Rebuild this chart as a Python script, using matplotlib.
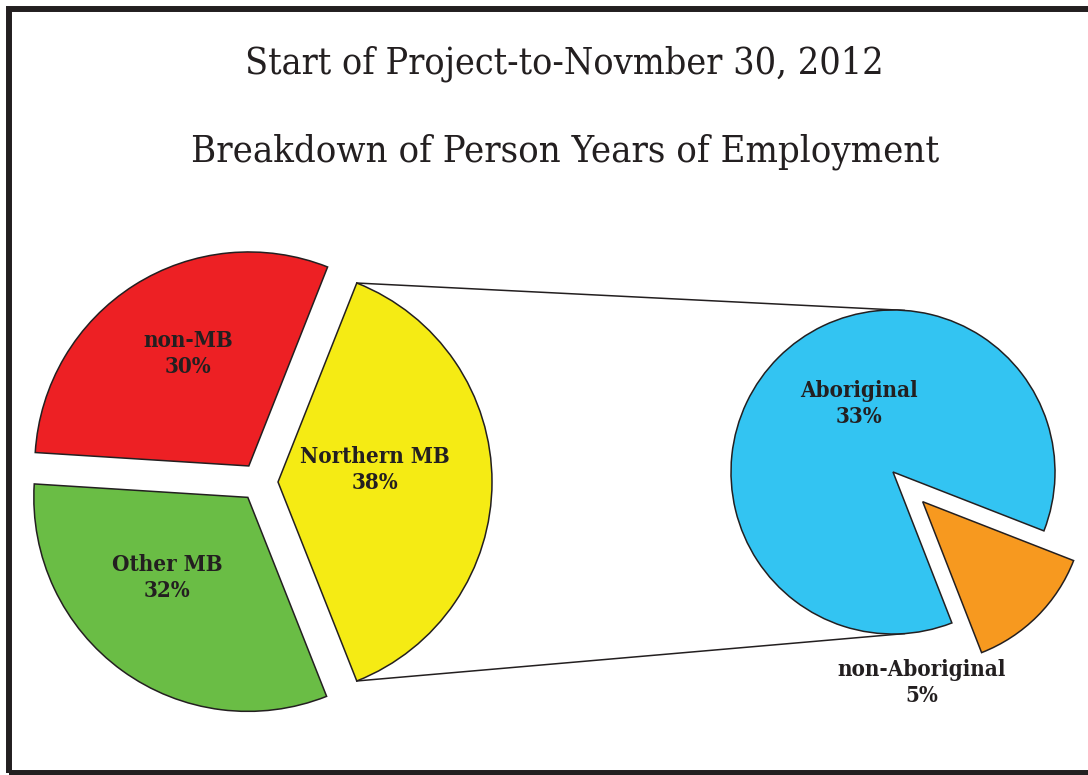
import numpy as np
import matplotlib.pyplot as plt
from matplotlib.patches import Rectangle

W, H = 1088, 775

title_top = "Start of Project-to-Novmber 30, 2012"
title_sub = "Breakdown of Person Years of Employment"

# share of person years by region (percent of total)
region_labels = ["Northern MB", "non-MB", "Other MB"]
region_pct = [38, 30, 32]
region_colors = ["#F5EB14", "#ED2024", "#6ABD45"]

# Northern MB broken down (percent of total)
north_labels = ["Aboriginal", "non-Aboriginal"]
north_pct = [33, 5]
north_colors = ["#33C4F2", "#F7991F"]

ink = "#231f20"
serif = dict(family="DejaVu Serif", fontstretch="condensed", color=ink)


def py(y):
    # work in pixel rows counted from the top
    return H - y


fig = plt.figure(figsize=(W / 100, H / 100), dpi=100)
ax = fig.add_axes([0, 0, 1, 1])

wp = dict(edgecolor=ink, linewidth=1.1, joinstyle="miter")

# main pie, Northern MB slice centred on the right
# (explode is an absolute offset here since the radius is in pixels)
big_c = (259, py(482))
big_r = 214
big_wedges, _ = ax.pie(region_pct, colors=region_colors, radius=big_r, center=big_c,
                       startangle=-region_pct[0] / sum(region_pct) * 180,
                       explode=[19] * 3, wedgeprops=wp, frame=True)

# detail pie for Northern MB
small_c = (893, py(472))
small_r = 162
small_wedges, _ = ax.pie(north_pct, colors=north_colors, radius=small_r, center=small_c,
                         startangle=-45 + north_pct[1] / sum(north_pct) * 180,
                         explode=[0, 42], wedgeprops=wp, frame=True)

# connector lines from the Northern MB slice to the detail pie
yw = big_wedges[0]
wc = np.array(yw.center)
for th_src, th_dst in [(yw.theta2, 86), (yw.theta1, -86)]:
    a = np.deg2rad(th_src)
    b = np.deg2rad(th_dst)
    p = wc + yw.r * np.array([np.cos(a), np.sin(a)])
    q = np.array(small_c) + small_r * np.array([np.cos(b), np.sin(b)])
    ax.plot([p[0], q[0]], [p[1], q[1]], color=ink, lw=1.1, zorder=0)

ax.set_xlim(0, W)
ax.set_ylim(0, H)
ax.set_aspect("equal")
ax.axis("off")

# outer frame
ax.add_patch(Rectangle((9, py(773)), W, 773 - 9, fill=False, edgecolor=ink,
                       linewidth=4.3, clip_on=False, joinstyle="miter"))

fig.canvas.draw()
renderer = fig.canvas.get_renderer()


def fit(t, width_px):
    w = t.get_window_extent(renderer).width
    t.set_fontsize(t.get_fontsize() * width_px / w)


t1 = ax.text(564, py(73), title_top, ha="center", va="baseline", fontsize=24, **serif)
t2 = ax.text(565, py(162), title_sub, ha="center", va="baseline", fontsize=24, **serif)
fit(t1, 639)
fit(t2, 750)

# anchor = centre x and baseline of the percentage line
label_pos = {
    "non-MB": (188, 373),
    "Northern MB": (375, 489),
    "Other MB": (167, 597),
    "Aboriginal": (859, 423),
    "non-Aboriginal": (922, 702),
}
labels = list(zip(region_labels, region_pct)) + list(zip(north_labels, north_pct))
texts = []
for name, pct in labels:
    x, y = label_pos[name]
    t = ax.text(x, py(y), f"{name}\n{pct}%", ha="center", va="baseline",
                fontsize=15, fontweight="bold", linespacing=1.25, **serif)
    texts.append(t)

fit(texts[0], 150)
fs = texts[0].get_fontsize()
for t in texts[1:]:
    t.set_fontsize(fs)

fig.savefig("out.png", dpi=100)
